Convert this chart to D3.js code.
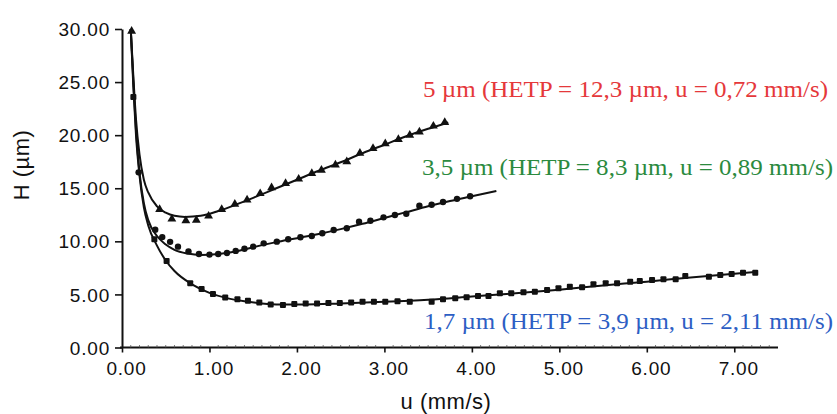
<!DOCTYPE html>
<html>
<head>
<meta charset="utf-8">
<script src="https://cdn.jsdelivr.net/npm/d3@7"></script>
<style>
  html, body { margin: 0; padding: 0; background: #fff; }
  svg { display: block; }
</style>
</head>
<body>
<svg id="chart" width="837" height="414"></svg>
<script>
// Van Deemter plots: plate height H versus linear velocity u for three particle sizes.
const xTicks = [0, 1, 2, 3, 4, 5, 6, 7];
const yTicks = [0, 5, 10, 15, 20, 25, 30];

// 5 µm particles: measured points (triangles) and fitted curve
const pts5 = [[0.11,29.8],[0.43,13.0],[0.57,12.1],[0.73,11.95],[0.85,12.0],[0.99,12.38],[1.14,13.0],[1.29,13.5],[1.43,13.9],[1.58,14.5],[1.71,15.05],[1.87,15.46],[2.02,15.87],[2.17,16.4],[2.28,16.7],[2.44,17.2],[2.57,17.5],[2.72,18.3],[2.87,18.76],[3.01,19.2],[3.16,19.6],[3.29,20.0],[3.40,20.3],[3.56,20.86],[3.69,21.2]];
const fit5 = [[0.1,30],[0.13,25.5],[0.16,21.5],[0.2,18.2],[0.25,15.8],[0.3,14.6],[0.4,13.3],[0.5,12.7],[0.6,12.4],[0.72,12.3],[0.9,12.4],[1.1,12.85],[1.3,13.45],[1.5,14.1],[1.75,14.95],[2.0,15.8],[2.25,16.65],[2.5,17.45],[2.75,18.3],[3.0,19.1],[3.25,19.9],[3.5,20.6],[3.73,21.2]];

// 3.5 µm particles: measured points (circles) and fitted curve
const pts35 = [[0.19,16.5],[0.38,11.1],[0.46,10.4],[0.55,9.95],[0.64,9.5],[0.76,9.05],[0.88,8.8],[1.0,8.75],[1.1,8.8],[1.2,8.9],[1.3,9.1],[1.4,9.3],[1.5,9.5],[1.62,9.81],[1.77,9.97],[1.90,10.2],[2.04,10.38],[2.17,10.5],[2.29,10.76],[2.42,11.07],[2.57,11.23],[2.71,11.85],[2.84,11.94],[2.99,12.26],[3.12,12.48],[3.25,12.6],[3.40,13.35],[3.54,13.45],[3.67,13.7],[3.83,14.0],[3.98,14.25]];
const fit35 = [[0.1,30],[0.13,25],[0.16,20.5],[0.2,16.5],[0.25,13.6],[0.3,12.0],[0.4,10.5],[0.5,9.7],[0.6,9.2],[0.75,8.85],[0.9,8.72],[1.1,8.8],[1.3,9.05],[1.5,9.45],[1.75,9.9],[2.0,10.3],[2.25,10.7],[2.5,11.15],[2.75,11.65],[3.0,12.2],[3.25,12.75],[3.5,13.3],[3.75,13.8],[4.0,14.25],[4.28,14.75]];

// 1.7 µm particles: measured points (squares) and fitted curve
const pts17 = [[0.13,23.6],[0.37,10.2],[0.51,8.15],[0.78,6.05],[0.91,5.5],[1.04,5.05],[1.18,4.7],[1.32,4.55],[1.44,4.4],[1.57,4.25],[1.70,4.05],[1.84,4.0],[1.97,4.1],[2.10,4.15],[2.23,4.15],[2.36,4.2],[2.49,4.2],[2.62,4.25],[2.75,4.3],[2.88,4.3],[3.01,4.3],[3.15,4.35],[3.29,4.32],[3.54,4.32],[3.67,4.54],[3.81,4.63],[3.94,4.73],[4.07,4.85],[4.19,4.85],[4.32,5.1],[4.45,5.1],[4.59,5.2],[4.72,5.26],[4.86,5.42],[4.99,5.58],[5.12,5.73],[5.26,5.67],[5.39,5.95],[5.53,6.05],[5.66,6.05],[5.81,6.2],[5.92,6.26],[6.06,6.36],[6.19,6.42],[6.33,6.42],[6.44,6.73],[6.71,6.67],[6.84,6.83],[6.97,6.92],[7.10,7.05],[7.24,7.05]];
const fit17 = [[0.1,30],[0.13,24.5],[0.16,20],[0.2,16.2],[0.25,13.2],[0.3,11.5],[0.4,9.6],[0.5,8.2],[0.6,7.2],[0.8,5.95],[1.0,5.15],[1.2,4.65],[1.4,4.35],[1.6,4.15],[1.8,4.05],[2.1,4.05],[2.5,4.15],[3.0,4.3],[3.5,4.5],[4.0,4.8],[4.5,5.1],[5.0,5.45],[5.5,5.85],[6.0,6.2],[6.5,6.6],[7.0,6.95],[7.24,7.1]];

const seriesLabels = [
  "5 µm (HETP = 12,3 µm, u = 0,72 mm/s)",
  "3,5 µm (HETP = 8,3 µm, u = 0,89 mm/s)",
  "1,7 µm (HETP = 3,9 µm, u = 2,11 mm/s)"
];

const svg = d3.select("#chart");
const margin = { left: 122, right: 59, top: 29, bottom: 66.5 };
const W = 837, Hpx = 414;

const x = d3.scaleLinear().domain([0, 7.5]).range([margin.left, W - margin.right]);
const y = d3.scaleLinear().domain([0, 30]).range([Hpx - margin.bottom, margin.top]);

// Axes
const xAxis = d3.axisBottom(x).tickValues(xTicks).tickFormat(d3.format(".2f")).tickSize(5).tickSizeOuter(0);
const yAxis = d3.axisLeft(y).tickValues(yTicks).tickFormat(d3.format(".2f")).tickSize(7).tickSizeOuter(0);

const gx = svg.append("g").attr("transform", `translate(0,${y(0)})`).call(xAxis);
gx.select(".domain").attr("stroke", "#111").attr("stroke-width", 2).attr("d", `M${x(0)-2},0H${x(7.5)}`);
gx.selectAll(".tick line").attr("stroke", "#111").attr("stroke-width", 1.6);
gx.selectAll(".tick text")
  .attr("font-family", "Liberation Sans, Arial, sans-serif")
  .attr("font-size", 19).attr("letter-spacing", 0.8)
  .attr("fill", "#111").attr("dy", "1.05em").attr("dx", 4);

// minor ticks along the u axis
const minor = d3.range(0.1, 7.5, 0.1).filter(v => Math.abs(v - Math.round(v)) > 0.01);
svg.append("g").selectAll("line").data(minor).join("line")
  .attr("x1", d => x(d)).attr("x2", d => x(d))
  .attr("y1", y(0)).attr("y2", y(0) - 2.5)
  .attr("stroke", "#555").attr("stroke-width", 0.8);

const gy = svg.append("g").attr("transform", `translate(${x(0)},0)`).call(yAxis);
gy.select(".domain").attr("stroke", "#111").attr("stroke-width", 2);
gy.selectAll(".tick line").attr("stroke", "#111").attr("stroke-width", 1.6);
gy.selectAll(".tick text")
  .attr("font-family", "Liberation Sans, Arial, sans-serif")
  .attr("font-size", 19).attr("letter-spacing", 0.8)
  .attr("fill", "#111").attr("dx", -2).attr("dy", "0.35em");

// Axis titles
svg.append("text")
  .attr("x", 446).attr("y", 409)
  .attr("text-anchor", "middle")
  .attr("font-family", "Liberation Sans, Arial, sans-serif")
  .attr("font-size", 22).attr("letter-spacing", 0.5).attr("fill", "#111")
  .text("u (mm/s)");

svg.append("text")
  .attr("transform", "translate(29,165) rotate(-90)")
  .attr("text-anchor", "middle")
  .attr("font-family", "Liberation Sans, Arial, sans-serif")
  .attr("font-size", 22).attr("letter-spacing", 0.5).attr("fill", "#111")
  .text("H (µm)");

// Fitted curves
const line = d3.line().x(d => x(d[0])).y(d => y(d[1])).curve(d3.curveMonotoneX);
[fit5, fit35, fit17].forEach(f => {
  svg.append("path").datum(f).attr("d", line)
    .attr("fill", "none").attr("stroke", "#111").attr("stroke-width", 2);
});

// Measured points
const tri = d3.symbol().type(d3.symbolTriangle).size(34);
svg.append("g").selectAll("path").data(pts5).join("path")
  .attr("transform", d => `translate(${x(d[0])},${y(d[1])})`)
  .attr("d", tri).attr("fill", "#111");

svg.append("g").selectAll("circle").data(pts35).join("circle")
  .attr("cx", d => x(d[0])).attr("cy", d => y(d[1])).attr("r", 3.2).attr("fill", "#111");

svg.append("g").selectAll("rect").data(pts17).join("rect")
  .attr("x", d => x(d[0]) - 3).attr("y", d => y(d[1]) - 3)
  .attr("width", 6).attr("height", 6).attr("rx", 1).attr("fill", "#111");

// Series annotations
const labelColors = ["#e5383b", "#2b8a3e", "#2d5ec4"];
const labelPos = [[423, 97], [422, 175], [424, 329]];
const labelWidth = [405, 411, 409];
seriesLabels.forEach((t, i) => {
  svg.append("text")
    .attr("x", labelPos[i][0]).attr("y", labelPos[i][1])
    .attr("font-family", "Liberation Serif, Times New Roman, serif")
    .attr("font-size", 23).attr("fill", labelColors[i])
    .attr("textLength", labelWidth[i]).attr("lengthAdjust", "spacingAndGlyphs")
    .text(t);
});
</script>
</body>
</html>
